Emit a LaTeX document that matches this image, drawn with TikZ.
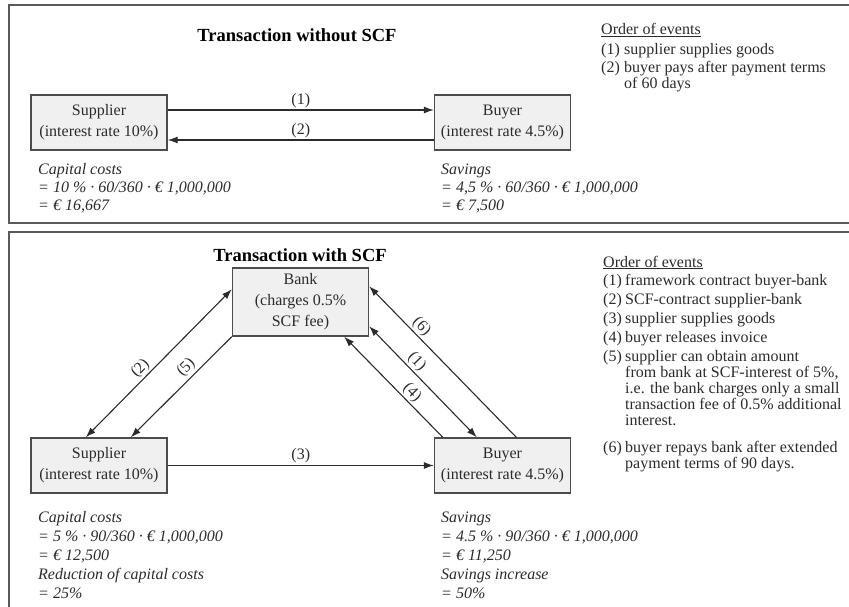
\documentclass[tikz,border=0pt]{standalone}
\usepackage{fontspec}
\setmainfont{Liberation Serif}
\usetikzlibrary{arrows.meta,calc}

\definecolor{ink}{HTML}{2B2B2B}
\definecolor{framegray}{HTML}{5A5A5A}
\definecolor{boxfill}{HTML}{F0F0F0}

\begin{document}
\begin{tikzpicture}[x=1pt,y=-1pt,
  panel/.style={draw=framegray, line width=1.6pt},
  party/.style={draw=black!70, line width=1.4pt, fill=boxfill, minimum width=136pt,
    minimum height=55pt, align=center, inner sep=0pt, text=ink,
    font=\fontsize{16}{21}\selectfont},
  flow/.style={draw=ink, line width=1.1pt, -{Latex[length=10pt,width=7pt]}},
  flowback/.style={draw=ink, line width=1.1pt, {Latex[length=10pt,width=7pt]}-},
  twoway/.style={draw=ink, line width=1.1pt, {Latex[length=10pt,width=7pt]}-{Latex[length=10pt,width=7pt]}},
  num/.style={font=\fontsize{16}{16}\selectfont, inner sep=0.5pt, text=ink},
  txt/.style={anchor=base west, inner sep=0pt, text=ink, font=\fontsize{16}{16}\selectfont},
  sum/.style={anchor=base west, inner sep=0pt, text=ink, font=\fontsize{16}{16}\selectfont\itshape},
  headline/.style={anchor=base, inner sep=0pt, text=black, font=\fontsize{18.5}{20}\selectfont\bfseries}
]
\useasboundingbox (0,0) rectangle (849,607);

% ---------- upper panel: transaction without SCF ----------
\draw[panel] (870,5) -- (9,5) -- (9,223) -- (870,223);
\node[headline] (t1) at (297,42) {Transaction without SCF};

\node[party] (sup1) at (99,122.5) {Supplier\\(interest rate 10\%)};
\node[party] (buy1) at (502.5,122.5) {Buyer\\(interest rate 4.5\%)};

\draw[flow] ([yshift=12.5pt]sup1.east) -- node[num, above, yshift=1.5pt] {(1)} ([yshift=12.5pt]buy1.west);
\draw[flowback] ([yshift=-17.5pt]sup1.east) -- node[num, above, yshift=1.5pt] {(2)} ([yshift=-17.5pt]buy1.west);

\node[txt] (o1h) at (601,35) {\underline{Order of events}};
\node[txt] (o1n1) at (601,55) {(1)};
\node[txt] (o1a) at (624,55) {supplier supplies goods};
\node[txt] (o1n2) at (601,73) {(2)};
\node[txt] (o1b) at (624,73) {buyer pays after payment terms};
\node[txt] (o1c) at (624,89) {of 60 days};

\node[sum] (c1a) at (38,175) {Capital costs};
\node[sum] (c1b) at (38,193) {= 10 \% · 60/360 · € 1,000,000};
\node[sum] (c1c) at (38,211) {= € 16,667};
\node[sum] (s1a) at (441,175) {Savings};
\node[sum] (s1b) at (441,193) {= 4,5 \% · 60/360 · € 1,000,000};
\node[sum] (s1c) at (441,211) {= € 7,500};

% ---------- lower panel: transaction with SCF ----------
\draw[panel] (870,232) -- (9,232) -- (9,620);
\node[headline] (t2) at (300,261) {Transaction with SCF};

\node[party, minimum height=68pt] (bank) at (300.5,302) {Bank\\(charges 0.5\%\\SCF fee)};
\node[party] (sup2) at (99,465.5) {Supplier\\(interest rate 10\%)};
\node[party] (buy2) at (502.5,465.5) {Buyer\\(interest rate 4.5\%)};

\draw[flow] (sup2.east) -- node[num, above, yshift=2pt] {(3)} (buy2.west);

% supplier side
\draw[twoway] ([xshift=55.5pt]sup2.north west) -- node[num, sloped, above=1pt, pos=0.42] {(2)} ([yshift=-22pt]bank.north west);
\draw[flowback] ([xshift=100.5pt]sup2.north west) -- node[num, sloped, above=2pt, pos=0.62] {(5)} (bank.south west);

% buyer side
\draw[flowback] ([yshift=-19pt]bank.north east) -- node[num, sloped, above=1pt, pos=0.31] {(6)} ([xshift=82.5pt]buy2.north west);
\draw[twoway] ([yshift=-59pt]bank.north east) -- node[num, sloped, above=1pt, pos=0.38] {(1)} ([xshift=43pt]buy2.north west);
\draw[flowback] ([xshift=-25pt]bank.south east) -- node[num, sloped, above=1pt, pos=0.62] {(4)} ([xshift=9pt]buy2.north west);

\node[txt] (o2h) at (603,267) {\underline{Order of events}};
\node[txt] (o2n1) at (603,285) {(1)};
\node[txt] (o2a) at (625,285) {framework contract buyer-bank};
\node[txt] (o2n2) at (603,304) {(2)};
\node[txt] (o2b) at (625,304) {SCF-contract supplier-bank};
\node[txt] (o2n3) at (603,323) {(3)};
\node[txt] (o2c) at (625,323) {supplier supplies goods};
\node[txt] (o2n4) at (603,342) {(4)};
\node[txt] (o2d) at (625,342) {buyer releases invoice};
\node[txt] (o2n5) at (603,361) {(5)};
\node[txt] (o2e1) at (625,361) {supplier can obtain amount};
\node[txt] (o2e2) at (625,377) {from bank at SCF-interest of 5\%,};
\node[txt] (o2e3) at (625,393) {i.e. the bank charges only a small};
\node[txt] (o2e4) at (625,409) {transaction fee of 0.5\% additional};
\node[txt] (o2e5) at (625,425) {interest.};
\node[txt] (o2n6) at (603,452) {(6)};
\node[txt] (o2f1) at (625,452) {buyer repays bank after extended};
\node[txt] (o2f2) at (625,468) {payment terms of 90 days.};

\node[sum] (c2a) at (38,522) {Capital costs};
\node[sum] (c2b) at (38,541) {= 5 \% · 90/360 · € 1,000,000};
\node[sum] (c2c) at (38,560) {= € 12,500};
\node[sum] (c2d) at (38,579) {Reduction of capital costs};
\node[sum] (c2e) at (38,598) {= 25\%};
\node[sum] (s2a) at (441,522) {Savings};
\node[sum] (s2b) at (441,541) {= 4.5 \% · 90/360 · € 1,000,000};
\node[sum] (s2c) at (441,560) {= € 11,250};
\node[sum] (s2d) at (441,579) {Savings increase};
\node[sum] (s2e) at (441,598) {= 50\%};
\end{tikzpicture}
\end{document}
